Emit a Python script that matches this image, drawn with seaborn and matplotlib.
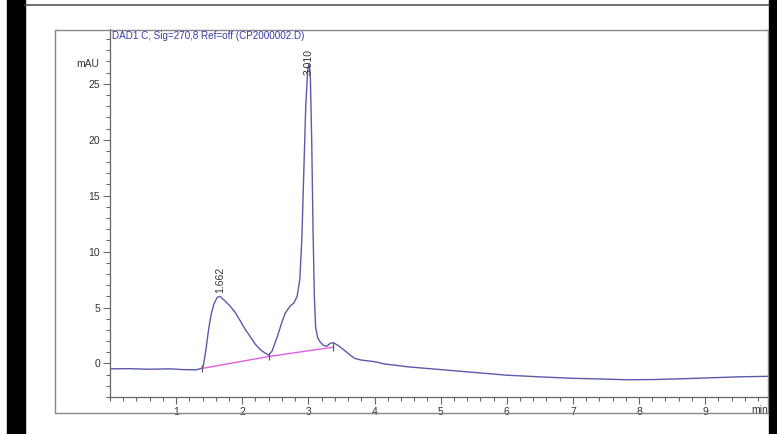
import matplotlib
matplotlib.use("Agg")
import matplotlib.pyplot as plt
import seaborn as sns
import pandas as pd
from matplotlib.lines import Line2D
from matplotlib.patches import Rectangle
from matplotlib.ticker import MultipleLocator

# chromatogram trace (retention time in min, signal in mAU)
time_min = [0.0, 0.3, 0.6, 0.9, 1.1, 1.3, 1.38, 1.41, 1.45, 1.49, 1.53, 1.57,
            1.62, 1.66, 1.72, 1.82, 1.90, 1.97, 2.05, 2.12, 2.20, 2.27, 2.34,
            2.40, 2.45, 2.53, 2.60, 2.65, 2.72, 2.78, 2.83, 2.87, 2.90, 2.93,
            2.96, 2.99, 3.01, 3.03, 3.05, 3.07, 3.09, 3.11, 3.14, 3.18, 3.23,
            3.28, 3.33, 3.38, 3.45, 3.53, 3.62, 3.70, 3.80, 3.95, 4.05, 4.15,
            4.30, 4.50, 4.70, 5.0, 5.3, 5.6, 6.0, 6.5, 7.0, 7.5, 7.8, 8.2,
            8.6, 9.0, 9.5, 9.95]
signal_mau = [-0.48, -0.47, -0.52, -0.48, -0.55, -0.57, -0.45, -0.25, 1.2, 3.0,
              4.4, 5.3, 5.9, 6.0, 5.7, 5.1, 4.5, 3.8, 3.0, 2.4, 1.7, 1.25, 0.95,
              0.75, 1.1, 2.4, 3.7, 4.5, 5.1, 5.4, 6.0, 7.5, 11.0, 17.0, 23.0,
              26.3, 26.8, 25.5, 20.0, 12.0, 6.0, 3.2, 2.3, 1.9, 1.6, 1.55, 1.8,
              1.85, 1.6, 1.25, 0.8, 0.45, 0.3, 0.2, 0.1, -0.05, -0.15, -0.3,
              -0.4, -0.55, -0.7, -0.85, -1.05, -1.2, -1.33, -1.4, -1.46, -1.44,
              -1.38, -1.3, -1.2, -1.15]

# integration baseline
base_time = [1.39, 2.40, 3.37]
base_signal = [-0.45, 0.62, 1.45]

# peak labels
peak_times = [1.662, 3.010]
peak_heights = [6.0, 26.8]
peak_labels = ["1.662", "3.010"]

trace = pd.DataFrame({"time": time_min, "signal": signal_mau})
baseline = pd.DataFrame({"time": base_time, "signal": base_signal})

sns.set_style("ticks")
plt.rcParams["font.family"] = ["Liberation Sans", "DejaVu Sans"]

fig = plt.figure(figsize=(7.77, 4.34), dpi=100)
W, H = 777, 434

# scanned page look: black bars and grey frame
fig.add_artist(Rectangle((7 / W, 0), 18 / W, 1, transform=fig.transFigure,
                         color="black", zorder=0))
fig.add_artist(Rectangle((769 / W, 0), 8 / W, 1, transform=fig.transFigure,
                         color="black", zorder=0))
fig.add_artist(Line2D([25 / W, 769 / W], [1 - 5 / H, 1 - 5 / H],
                      transform=fig.transFigure, color="#555555", lw=1.2))
frame = dict(transform=fig.transFigure, color="#888888", lw=1.0)
fig.add_artist(Line2D([55 / W, 768 / W], [1 - 30 / H, 1 - 30 / H], **frame))
fig.add_artist(Line2D([55 / W, 55 / W], [1 - 30 / H, 1 - 413 / H], **frame))
fig.add_artist(Line2D([55 / W, 768 / W], [1 - 413 / H, 1 - 413 / H], **frame))
fig.add_artist(Line2D([768 / W, 768 / W], [1 - 30 / H, 1 - 413 / H], **frame))

ax = fig.add_axes([110 / W, 1 - 397 / H, (768 - 110) / W, (397 - 29) / H])

sns.lineplot(data=trace, x="time", y="signal", ax=ax, color="#5a5aa8",
             linewidth=1.0, estimator=None, sort=False)
sns.lineplot(data=baseline, x="time", y="signal", ax=ax, color="#e060e0",
             linewidth=1.0, estimator=None, sort=False)
ax.vlines(baseline["time"], baseline["signal"] - 0.35, baseline["signal"] + 0.35,
          color="#5a4a7a", lw=0.8)

# labels sit on the peak apex, as in the integrator printout
label_offsets = [0.3, -1.0]
for t, h, lab, off in zip(peak_times, peak_heights, peak_labels, label_offsets):
    ax.text(t, h + off, lab, rotation=90, ha="center", va="bottom",
            fontsize=7.5, color="#333333")

ax.set_xlim(0, 9.95)
ax.set_ylim(-3, 29.9)
ax.set_xticks([1, 2, 3, 4, 5, 6, 7, 8, 9])
ax.set_yticks([0, 5, 10, 15, 20, 25])
ax.xaxis.set_minor_locator(MultipleLocator(0.2))
ax.yaxis.set_minor_locator(MultipleLocator(1))
ax.tick_params(which="major", length=5, width=0.8, color="#666666",
               labelsize=7.5, labelcolor="#333333", pad=2)
ax.tick_params(which="minor", length=3, width=0.8, color="#666666")
sns.despine(ax=ax)
for s in ("left", "bottom"):
    ax.spines[s].set_color("#666666")
    ax.spines[s].set_linewidth(0.9)
ax.set_xlabel("")
ax.set_ylabel("")

ax.text(-0.017, 0.905, "mAU", transform=ax.transAxes, ha="right", va="center",
        fontsize=7.5, color="#333333")
ax.text(1.0, -0.021, "min", transform=ax.transAxes, ha="right", va="top",
        fontsize=7.5, color="#333333")
fig.text(112 / W, 1 - 36 / H, "DAD1 C, Sig=270,8 Ref=off (CP2000002.D)",
         ha="left", va="center", fontsize=7.1, color="#3a3aa8")

fig.savefig("out.png", dpi=100)
